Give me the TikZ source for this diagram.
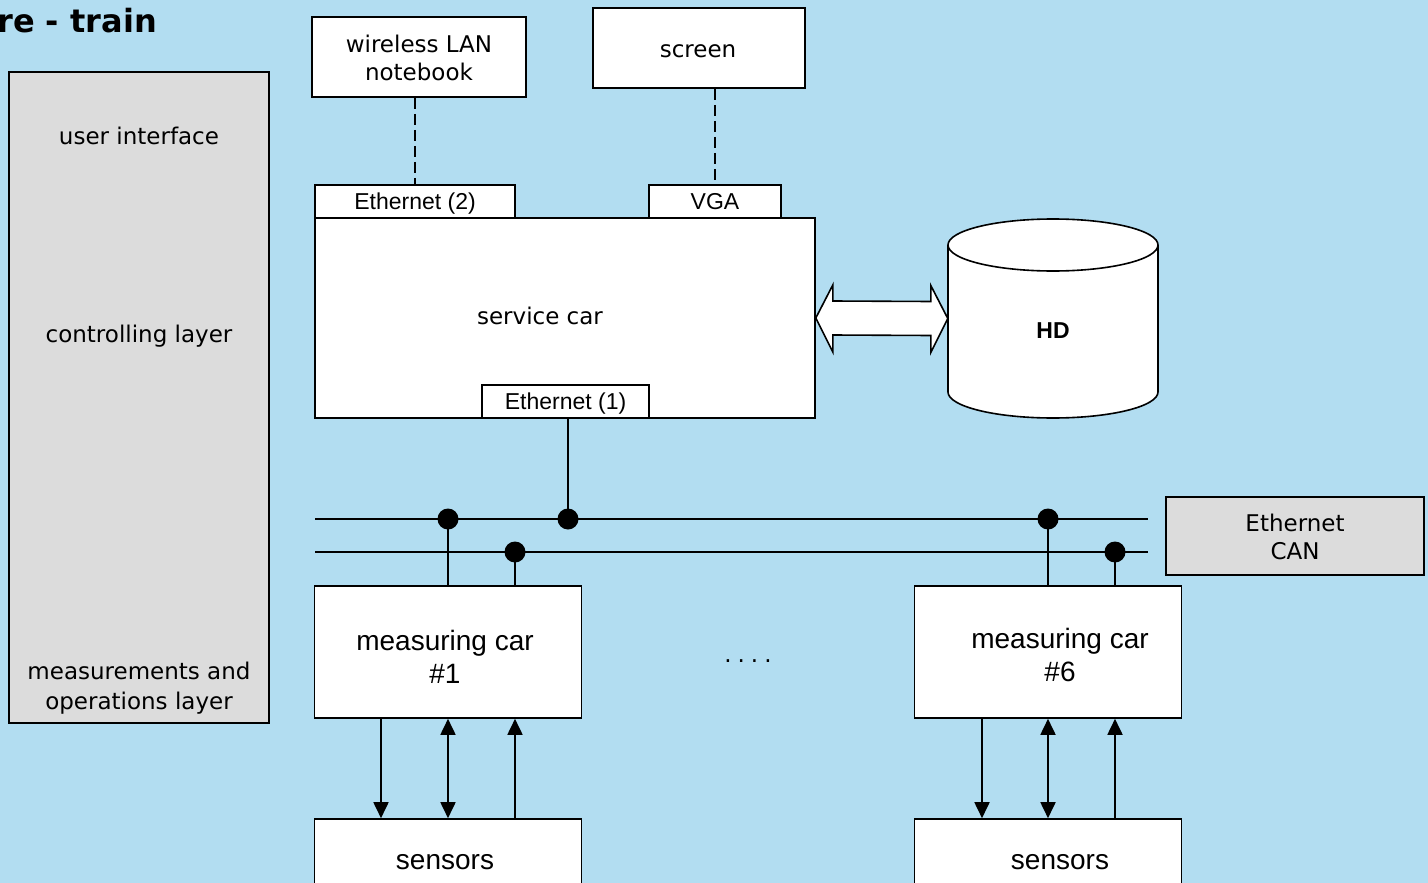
\documentclass[tikz,border=0pt]{standalone}
\usepackage{fontspec}
\setmainfont{DejaVu Sans}
\newfontfamily\arialf{Liberation Sans}
\usetikzlibrary{arrows.meta,calc}
\definecolor{bgblue}{RGB}{178,221,241}
\definecolor{panelgray}{RGB}{220,220,220}
\tikzset{
  vfont/.style={font=\fontsize{23}{28}\selectfont},
  afont/.style={font=\arialf\fontsize{23}{28}\selectfont, text height=21.5pt, text depth=5pt},
  bfont/.style={font=\arialf\fontsize{28}{33}\selectfont},
  wbox/.style={draw, fill=white, line width=1.6pt, inner sep=0pt, align=center},
  gbox/.style={draw, fill=panelgray, line width=1.6pt, inner sep=0pt, align=center},
  plain/.style={inner sep=0pt, align=center},
  wire/.style={line width=1.8pt},
  dashwire/.style={line width=1.6pt, dash pattern=on 11pt off 5pt},
  dot/.style={circle, fill=black, minimum size=21pt, inner sep=0pt},
  tip/.style={line width=1.8pt, arrows={-Triangle[length=16pt,width=15pt]}},
  tips/.style={line width=1.8pt, arrows={Triangle[length=16pt,width=15pt]-Triangle[length=16pt,width=15pt]}},
}
\begin{document}
\begin{tikzpicture}[x=1pt,y=-1pt]
\fill[bgblue] (0,0) rectangle (1428,883);
\useasboundingbox (0,0) rectangle (1428,883);

% title
\node[plain, anchor=east, font=\bfseries\fontsize{32}{36}\selectfont] (title) at (157,21) {re - train};

% left panel
\node[gbox, minimum width=260pt, minimum height=651pt] (panel) at (139,397.5) {};
\node[plain, vfont] (ui) at (139,136) {user interface};
\node[plain, vfont] (cl) at (139,336) {controlling layer};
\node[plain, vfont, font=\fontsize{23}{30}\selectfont] (ml) at (139,688) {measurements and\\operations layer};

% top devices
\node[wbox, minimum width=214pt, minimum height=80pt] (wlan) at (419,57) {};
\node[plain, vfont] (wlanlbl) at (419,58) {wireless LAN\\notebook};
\node[wbox, minimum width=212pt, minimum height=80pt] (screen) at (699,48) {};
\node[plain, vfont] (screenlbl) at (698,51) {screen};

% service car
\node[wbox, minimum width=500pt, minimum height=200pt] (svc) at (565,318) {};
\node[plain, vfont] (svclbl) at (540,316) {service car};
\node[wbox, afont, minimum width=200pt, minimum height=33pt] (eth2) at (415,201.5) {Ethernet (2)};
\node[wbox, afont, minimum width=132pt, minimum height=33pt] (vga) at (715,201.5) {VGA};
\node[wbox, afont, minimum width=167pt, minimum height=33pt] (eth1) at (565.5,401.5) {Ethernet (1)};

\draw[dashwire] (wlan.south -| eth2.north) -- (eth2.north);
\draw[dashwire] (screen.south -| vga.north) -- (vga.north);

% HD cylinder
\node[plain, minimum width=210pt, minimum height=199pt] (hd) at (1053,318.5) {};
\draw[line width=1.6pt, fill=white]
  (948,245) -- (948,392) arc[start angle=180, end angle=360, x radius=105, y radius=-26]
  -- (1158,245) arc[start angle=0, end angle=180, x radius=105, y radius=-26] -- cycle;
\draw[line width=1.6pt] (948,245) arc[start angle=180, end angle=360, x radius=105, y radius=-26];
\node[plain, font=\arialf\bfseries\fontsize{23}{28}\selectfont] (hdlbl) at (1053,331) {HD};

% block double arrow
\draw[line width=1.6pt, fill=white]
  (svc.east) -- ($(svc.east)+(17,-33)$) -- ($(svc.east)+(17,-17)$) -- ($(hd.west)+(-17,-17)$)
  -- ($(hd.west)+(-17,-33)$) -- (hd.west) -- ($(hd.west)+(-17,34)$) -- ($(hd.west)+(-17,17)$)
  -- ($(svc.east)+(17,17)$) -- ($(svc.east)+(17,34)$) -- cycle;

% buses
\coordinate (b1l) at (315,519);
\coordinate (b1r) at (1148,519);
\coordinate (b2l) at (315,552);
\coordinate (b2r) at (1148,552);
\draw[wire] (b1l) -- (b1r);
\draw[wire] (b2l) -- (b2r);
\node[dot] (d1) at (448,519) {};
\node[dot] (d2) at (568,519) {};
\node[dot] (d3) at (515,552) {};
\node[dot] (d4) at (1048,519) {};
\node[dot] (d5) at (1115,552) {};

\node[gbox, minimum width=258pt, minimum height=78pt] (bus) at (1295,536) {};
\node[plain, vfont] (buslbl) at (1295,537) {Ethernet\\CAN};

% measuring cars
\node[wbox, minimum width=267pt, minimum height=132pt] (mc1) at (448,652) {};
\node[plain, bfont] (mc1lbl) at (445,657) {measuring car\\\#1};
\node[wbox, minimum width=267pt, minimum height=132pt] (mc6) at (1048,652) {};
\node[plain, bfont] (mc6lbl) at (1060,655) {measuring car\\\#6};
\node[plain, vfont] (dots) at (748,661) {.\hspace{6pt}.\hspace{6pt}.\hspace{6pt}.};

\draw[wire] (eth1.south -| d2) -- (d2.center);
\draw[wire] (d1.center) -- (d1 |- mc1.north);
\draw[wire] (d3.center) -- (d3 |- mc1.north);
\draw[wire] (d4.center) -- (d4 |- mc6.north);
\draw[wire] (d5.center) -- (d5 |- mc6.north);

% sensors
\node[wbox, minimum width=267pt, minimum height=100pt] (s1) at (448,869) {};
\node[plain, bfont] (s1lbl) at (445,862) {sensors};
\node[wbox, minimum width=267pt, minimum height=100pt] (s6) at (1048,869) {};
\node[plain, bfont] (s6lbl) at (1060,862) {sensors};

\draw[tip] (mc1.south -| 381,0) -- (s1.north -| 381,0);
\draw[tips] (mc1.south) -- (s1.north);
\draw[tip] (s1.north -| 515,0) -- (mc1.south -| 515,0);
\draw[tip] (mc6.south -| 982,0) -- (s6.north -| 982,0);
\draw[tips] (mc6.south) -- (s6.north);
\draw[tip] (s6.north -| 1115,0) -- (mc6.south -| 1115,0);
\end{tikzpicture}
\end{document}
